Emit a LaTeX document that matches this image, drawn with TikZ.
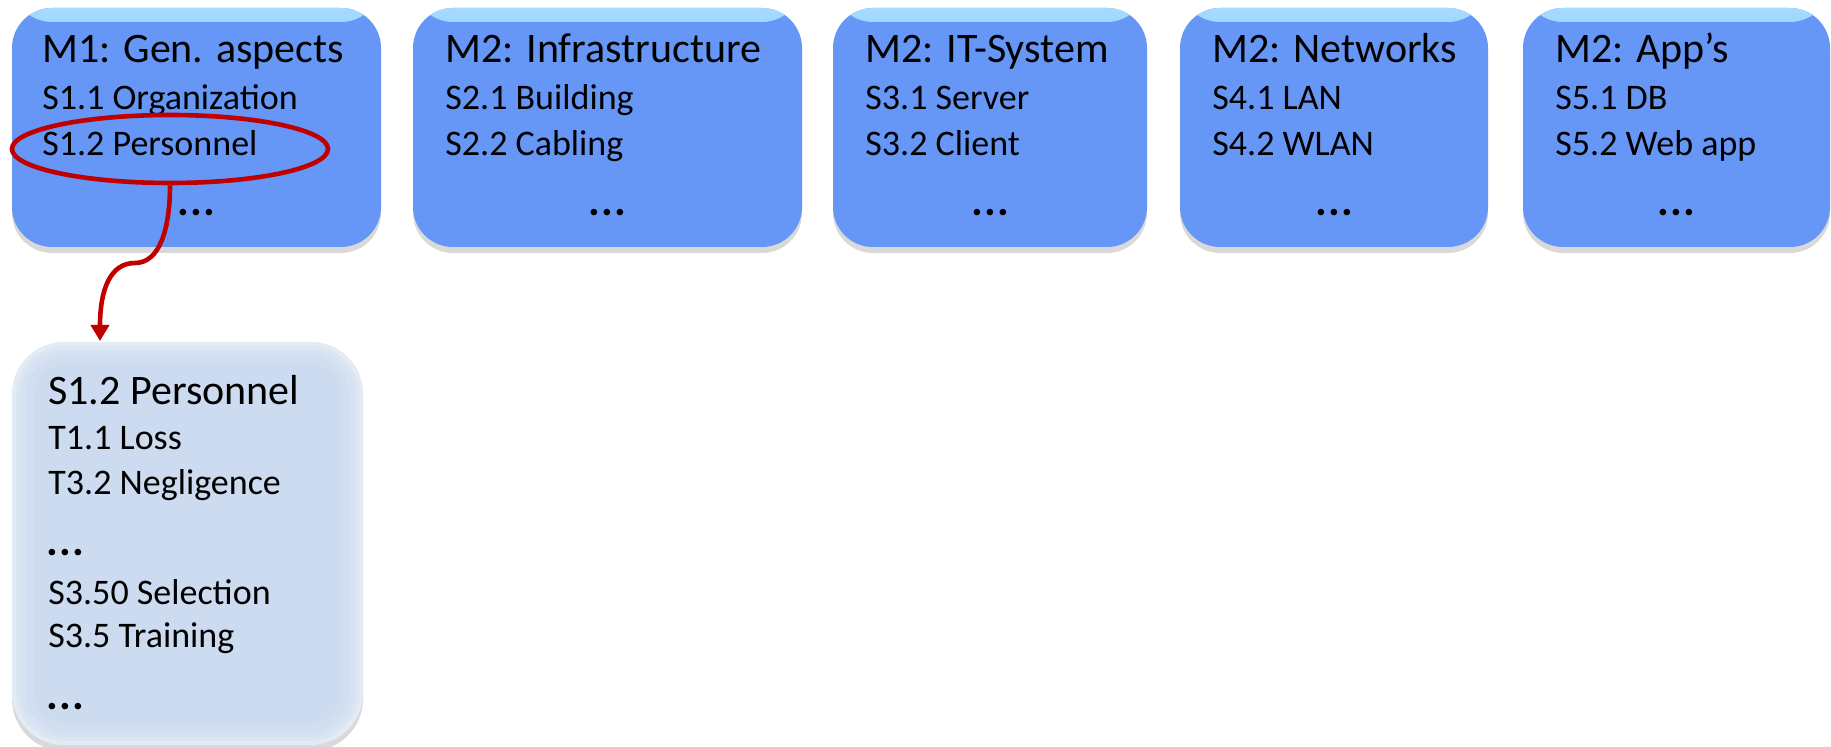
\documentclass[tikz,border=0pt]{standalone}
\usepackage{fontspec}
\setmainfont{Carlito}
\usetikzlibrary{shapes.geometric,arrows.meta,fit,shadows}
\definecolor{mblue}{HTML}{6697F7}
\definecolor{mhl}{HTML}{A6DCFF}
\definecolor{lblue}{HTML}{CCDBEF}
\definecolor{dred}{HTML}{C00000}
\newcommand\ppbb{path picture bounding box}
\tikzset{
  mbox/.style={rounded corners=20pt, fill=mblue, inner sep=0pt, draw=none,
    drop shadow={shadow xshift=0pt, shadow yshift=-3pt, opacity=0.3},
    path picture={\shade[top color=mhl, bottom color=mblue]
      ([yshift=2pt]\ppbb.north west) rectangle ([yshift=-7pt]\ppbb.north east);}},
  glow/.style={draw=white, rounded corners=26pt},
  lbox/.style={rounded corners=26pt, fill=lblue, inner sep=0pt, draw=none,
    drop shadow={shadow xshift=0pt, shadow yshift=-3pt, opacity=0.3},
    path picture={
      \draw[glow, opacity=.10, line width=22pt] (\ppbb.south west) rectangle (\ppbb.north east);
      \draw[glow, opacity=.12, line width=14pt] (\ppbb.south west) rectangle (\ppbb.north east);
      \draw[glow, opacity=.15, line width=8pt] (\ppbb.south west) rectangle (\ppbb.north east);
      \draw[glow, opacity=.2, line width=4pt] (\ppbb.south west) rectangle (\ppbb.north east);}},
  ttl/.style={anchor=base west, inner sep=0pt, font=\fontsize{21}{25}\selectfont},
  itm/.style={anchor=base west, inner sep=0pt, font=\fontsize{18}{22}\selectfont},
  dts/.style={anchor=base, inner sep=0pt, font=\fontsize{22}{24}\selectfont\bfseries},
  ldts/.style={anchor=base west, inner sep=0pt, font=\fontsize{22}{24}\selectfont\bfseries},
  redline/.style={draw=dred, line width=2.3pt}
}
\newcommand\mydots{.\kern0.6pt.\kern0.6pt.}
\newcommand\topbox[7]{%
  \node[mbox, fit={(#2,8) (#3,247)}] (#1) {};
  \node[ttl] (#1t) at (#4,63) {#5};
  \node[itm] (#1a) at (#4,110) {#6};
  \node[itm] (#1b) at (#4,156) {#7};
  \node[dts] (#1d) at (#1.center |- 0,216) {\mydots};
}
\begin{document}
\begin{tikzpicture}[x=0.5pt,y=-0.5pt]
\useasboundingbox (0,0) rectangle (1831,747);
\topbox{b1}{12}{381}{42}{M1: Gen. aspects}{S1.1 Organization}{S1.2 Personnel}
\topbox{b2}{413}{802}{445}{M2: Infrastructure}{S2.1 Building}{S2.2 Cabling}
\topbox{b3}{833}{1147}{865}{M2: IT-System}{S3.1 Server}{S3.2 Client}
\topbox{b4}{1180}{1488}{1212}{M2: Networks}{S4.1 LAN}{S4.2 WLAN}
\topbox{b5}{1523}{1830}{1555}{M2: App’s}{S5.1 DB}{S5.2 Web app}

\node[lbox, fit={(12,342) (363,745)}] (low) {};
\node[ttl] (lt) at (48,405) {S1.2 Personnel};
\node[itm] (l1) at (48,450) {T1.1 Loss};
\node[itm] (l2) at (48,495) {T3.2 Negligence};
\node[ldts] (l3) at (46,556) {\mydots};
\node[itm] (l4) at (48,605) {S3.50 Selection};
\node[itm] (l5) at (48,648) {S3.5 Training};
\node[ldts] (l6) at (46,710) {\mydots};

\node[redline, ellipse, minimum width=158pt, minimum height=34pt, inner sep=0pt] (ell) at (170,149) {};
\coordinate (tip) at (100,341);
\draw[redline, -{Triangle[width=9pt,length=8pt]}]
  (ell.south) .. controls (170,228) and (160,263) .. (135,263)
  .. controls (110,263) and (100,290) .. (tip);
\end{tikzpicture}
\end{document}
